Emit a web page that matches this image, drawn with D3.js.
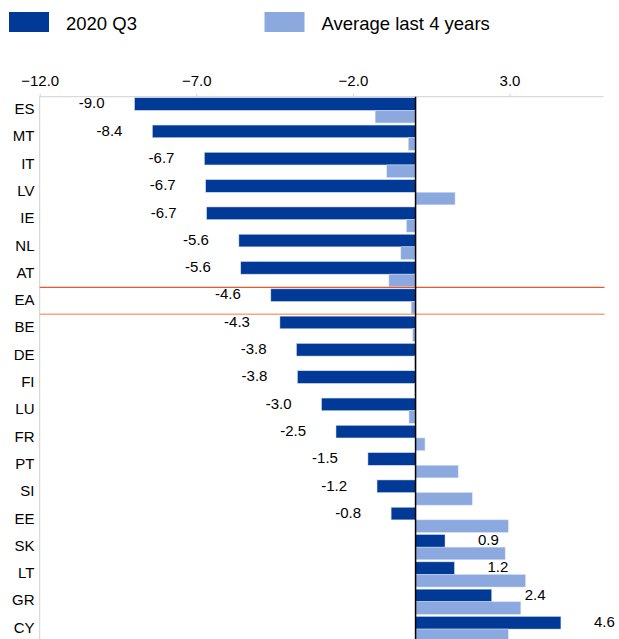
<!DOCTYPE html>
<html>
<head>
<meta charset="utf-8">
<script src="https://cdn.jsdelivr.net/npm/d3@7"></script>
<style>
  body { margin: 0; background: #fff; }
  text { font-family: "Liberation Sans", Arial, sans-serif; fill: #000; }
</style>
</head>
<body>
<svg id="chart" width="619" height="639"></svg>
<script>
var countries = ["ES", "MT", "IT", "LV", "IE", "NL", "AT", "EA", "BE", "DE", "FI", "LU", "FR", "PT", "SI", "EE", "SK", "LT", "GR", "CY"];
var q3_2020 = [-8.97, -8.4, -6.74, -6.7, -6.67, -5.64, -5.58, -4.62, -4.33, -3.8, -3.77, -3.0, -2.54, -1.52, -1.23, -0.78, 0.94, 1.24, 2.43, 4.64];
var avg4y = [-1.29, -0.23, -0.92, 1.26, -0.29, -0.47, -0.85, -0.14, -0.09, -0.03, -0.03, -0.21, 0.30, 1.36, 1.81, 2.96, 2.86, 3.51, 3.36, 2.96];
var xTicks = [-12, -7, -2, 3];
var seriesNames = ["2020 Q3", "Average last 4 years"];
var colors = ["#003a96", "#8ca9df"];

var svg = d3.select("#chart");
var plotLeft = 39.7, plotRight = 603.5, plotTop = 96.7, band = 27.3;

var x = d3.scaleLinear().domain([-12, 6]).range([plotLeft, plotRight]);
var y = d3.scaleBand().domain(countries).range([plotTop, plotTop + band * countries.length]).paddingInner(0).paddingOuter(0);
var ySub = d3.scaleBand().domain([0, 1]).range([0, band]).paddingOuter(0.085).paddingInner(0);

// legend
seriesNames.forEach(function(name, i) {
  var lx = [9, 264.5][i];
  svg.append("rect").attr("x", lx).attr("y", 12).attr("width", 40).attr("height", 20)
    .attr("fill", colors[i]);
  svg.append("text").attr("x", lx + 57).attr("y", 29.5)
    .style("font-size", "18.5px").text(name);
});

// top axis
var axis = svg.append("g").attr("transform", "translate(0," + plotTop + ")")
  .call(d3.axisTop(x).tickValues(xTicks).tickSize(3).tickPadding(8).tickFormat(d3.format(".1f")));
axis.select(".domain").attr("stroke", "#d0d0d0").attr("d", "M" + plotLeft + ",0H" + plotRight);
axis.selectAll(".tick line").attr("stroke", "#d0d0d0");
axis.selectAll(".tick text").style("font-size", "15px").style("font-family", "Liberation Sans, Arial, sans-serif").attr("fill", "#000");

// left border
svg.append("line").attr("x1", plotLeft).attr("x2", plotLeft).attr("y1", plotTop).attr("y2", 639)
  .attr("stroke", "#d0d0d0");

var rows = svg.selectAll("g.row").data(countries).enter().append("g")
  .attr("class", "row")
  .attr("transform", function(d) { return "translate(0," + y(d) + ")"; });

rows.append("rect")
  .attr("x", function(d, i) { return x(Math.min(0, q3_2020[i])); })
  .attr("width", function(d, i) { return Math.abs(x(q3_2020[i]) - x(0)); })
  .attr("y", ySub(0)).attr("height", ySub.bandwidth())
  .attr("fill", colors[0]).attr("stroke", "#c9d5ee").attr("stroke-width", 0.5);

rows.append("rect")
  .attr("x", function(d, i) { return x(Math.min(0, avg4y[i])); })
  .attr("width", function(d, i) { return Math.abs(x(avg4y[i]) - x(0)); })
  .attr("y", ySub(1)).attr("height", ySub.bandwidth())
  .attr("fill", colors[1]).attr("stroke", "#d5dff3").attr("stroke-width", 0.5);

// value labels
rows.append("text")
  .attr("x", function(d, i) { return q3_2020[i] < 0 ? x(q3_2020[i]) - 30 : x(q3_2020[i]) + 33; })
  .attr("y", ySub(0) + ySub.bandwidth() / 2 - 1)
  .attr("dy", "0.35em")
  .attr("text-anchor", function(d, i) { return q3_2020[i] < 0 ? "end" : "start"; })
  .style("font-size", "15px")
  .text(function(d, i) { return q3_2020[i].toFixed(1); });

// category labels
rows.append("text")
  .attr("x", 34.5).attr("y", band / 2 - 1.5).attr("dy", "0.35em")
  .attr("text-anchor", "end").style("font-size", "15px")
  .text(function(d) { return d; });

// EA separators
svg.append("line").attr("x1", plotLeft).attr("x2", plotRight + 1)
  .attr("y1", y("EA") - 0.5).attr("y2", y("EA") - 0.5)
  .attr("stroke", "#e8582a").attr("stroke-width", 1.2);
svg.append("line").attr("x1", plotLeft).attr("x2", plotRight + 1)
  .attr("y1", y("BE") - 0.8).attr("y2", y("BE") - 0.8)
  .attr("stroke", "#f9a57f").attr("stroke-width", 1.5);

// zero line
svg.append("line").attr("x1", x(0)).attr("x2", x(0)).attr("y1", plotTop).attr("y2", 639)
  .attr("stroke", "#000").attr("stroke-width", 1.5);
</script>
</body>
</html>
